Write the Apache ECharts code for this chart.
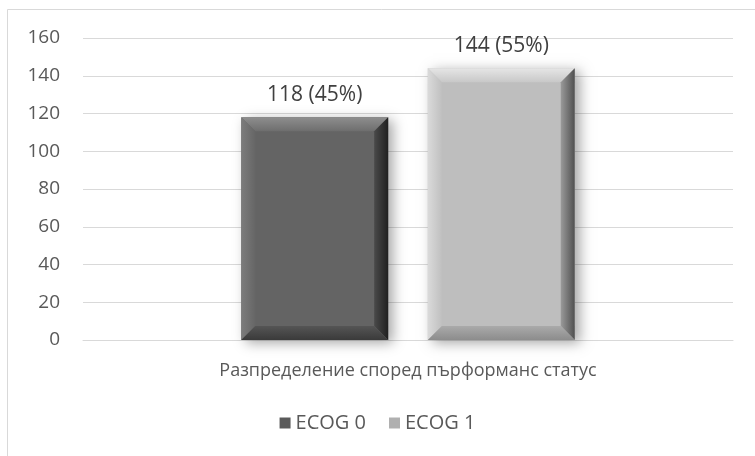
<!DOCTYPE html>
<html lang="bg">
<head>
    <meta charset="UTF-8">
    <title>ECOG</title>
    <style>
        html, body { margin: 0; padding: 0; background: #fff; }
    </style>
</head>
<body>
<div id="m1" style="width: 755px;height: 456px"></div>
<script src="https://cdn.jsdelivr.net/npm/echarts@6/dist/echarts.min.js"></script>
<script>
    // данни
    var categories = ['Разпределение според пърформанс статус'];
    var seriesNames = ['ECOG 0', 'ECOG 1'];
    var ecog0 = [118];
    var ecog1 = [144];
    var yTicks = {min: 0, max: 160, interval: 20};

    var total = ecog0[0] + ecog1[0];
    var font = '"Open Sans", "Noto Sans", sans-serif';

    // bevel bar drawn through the axis scales
    function bevelBar(side, c) {
        return function (params, api) {
            var top = api.coord([api.value(0), api.value(1)]);
            var base = api.coord([api.value(0), 0]);
            var band = api.size([1, 0])[0];
            var w = band * 0.226;
            var cx = top[0] + side * band * 0.1435;
            var x0 = cx - w / 2, x1 = cx + w / 2, y0 = top[1], y1 = base[1];
            var b = 14;
            var pct = Math.round(api.value(1) / total * 100);
            return {
                type: 'group',
                children: [
                    {type: 'rect', shape: {x: x0, y: y0, width: w, height: y1 - y0},
                        style: {fill: c.main, shadowBlur: 12, shadowOffsetX: 5, shadowOffsetY: 3, shadowColor: 'rgba(0,0,0,0.35)'}},
                    {type: 'polygon', shape: {points: [[x0, y0], [x1, y0], [x1 - b, y0 + b], [x0 + b, y0 + b]]},
                        style: {fill: new echarts.graphic.LinearGradient(0, 0, 0, 1, [{offset: 0, color: c.top2}, {offset: 1, color: c.top}])}},
                    {type: 'polygon', shape: {points: [[x0, y0], [x0 + b, y0 + b], [x0 + b, y1 - b], [x0, y1]]},
                        style: {fill: new echarts.graphic.LinearGradient(0, 0, 1, 0, [{offset: 0, color: c.left2}, {offset: 1, color: c.left}])}},
                    {type: 'polygon', shape: {points: [[x1, y0], [x1, y1], [x1 - b, y1 - b], [x1 - b, y0 + b]]},
                        style: {fill: new echarts.graphic.LinearGradient(0, 0, 1, 0, [{offset: 0, color: c.right}, {offset: 1, color: c.right2}])}},
                    {type: 'polygon', shape: {points: [[x0, y1], [x0 + b, y1 - b], [x1 - b, y1 - b], [x1, y1]]},
                        style: {fill: new echarts.graphic.LinearGradient(0, 0, 0, 1, [{offset: 0, color: c.bottom}, {offset: 1, color: c.bottom2}])}},
                    {type: 'text', x: cx, y: y0 - 12,
                        style: {text: api.value(1) + ' (' + pct + '%)', fill: '#404040', font: '21px ' + font,
                            align: 'center', verticalAlign: 'bottom'}}
                ]
            };
        };
    }

    var darkC = {main: '#646464', top: '#6e6e6e', top2: '#8e8e8e', left: '#666666', left2: '#7c7c7c',
        right: '#4a4a4a', right2: '#202020', bottom: '#555555', bottom2: '#3a3a3a'};
    var lightC = {main: '#bebebe', top: '#c8c8c8', top2: '#e6e6e6', left: '#c0c0c0', left2: '#dadada',
        right: '#9a9a9a', right2: '#505050', bottom: '#aaaaaa', bottom2: '#8c8c8c'};

    var my1 = echarts.init(document.getElementById('m1'));
    var option1 = {
        backgroundColor: '#fff',
        animation: false,
        graphic: [{
            type: 'rect', shape: {x: 7.5, y: 9.5, width: 780, height: 480},
            style: {fill: 'none', stroke: '#d9d9d9', lineWidth: 1}, silent: true
        }],
        grid: {left: 83, right: 22, top: 38, bottom: 116},
        legend: {
            data: seriesNames,
            bottom: 18,
            left: 'center',
            itemWidth: 11,
            itemHeight: 11,
            itemGap: 23,
            icon: 'rect',
            textStyle: {fontSize: 20, color: '#595959', fontFamily: font}
        },
        xAxis: {
            type: 'category',
            data: categories,
            axisTick: {show: false},
            axisLine: {lineStyle: {color: '#d9d9d9', width: 1}},
            axisLabel: {fontSize: 18, color: '#595959', fontFamily: font, margin: 22}
        },
        yAxis: {
            type: 'value',
            min: yTicks.min,
            max: yTicks.max,
            interval: yTicks.interval,
            axisLine: {show: false},
            axisTick: {show: false},
            splitLine: {lineStyle: {color: '#d9d9d9', width: 1}},
            axisLabel: {fontSize: 19, color: '#595959', fontFamily: font, margin: 23}
        },
        series: [
            {
                name: seriesNames[0],
                type: 'custom',
                itemStyle: {color: '#5a5a5a'},
                renderItem: bevelBar(-1, darkC),
                encode: {x: 0, y: 1},
                data: ecog0.map(function (v, i) { return [i, v]; })
            },
            {
                name: seriesNames[1],
                type: 'custom',
                itemStyle: {color: '#b0b0b0'},
                renderItem: bevelBar(1, lightC),
                encode: {x: 0, y: 1},
                data: ecog1.map(function (v, i) { return [i, v]; })
            }
        ]
    };
    my1.setOption(option1);
</script>
</body>
</html>
